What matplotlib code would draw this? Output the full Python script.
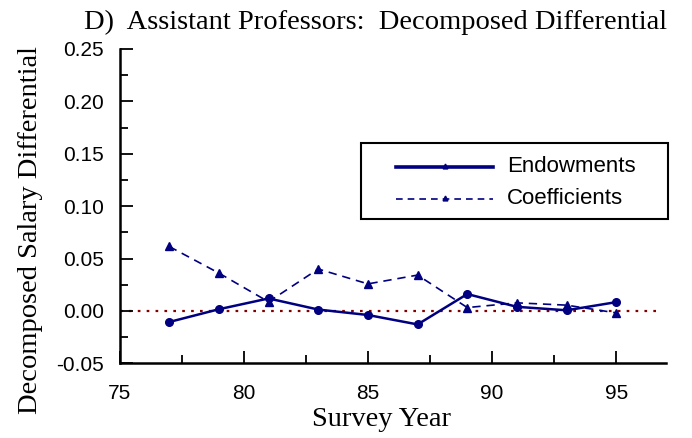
import matplotlib
matplotlib.use("Agg")
import matplotlib.pyplot as plt
from matplotlib.lines import Line2D
from matplotlib.patches import Rectangle
from matplotlib.ticker import MultipleLocator

# survey years and decomposed differential components
years = [77, 79, 81, 83, 85, 87, 89, 91, 93, 95]
endowments = [-0.0106, 0.0016, 0.0119, 0.0013, -0.0039, -0.0129, 0.0161, 0.0039, 0.0006, 0.0084]
coefficients = [0.0615, 0.0361, 0.0087, 0.0400, 0.0258, 0.0342, 0.0032, 0.0077, 0.0055, -0.0019]
series_names = ["Endowments", "Coefficients"]

navy = "#000080"
serif = "Liberation Serif"
sans = "Liberation Sans"
W, H = 692, 438

fig = plt.figure(figsize=(W / 100, H / 100), dpi=100)
ax = fig.add_axes([119.5 / W, 1 - 363.3 / H, (666 - 119.5) / W, (363.3 - 49) / H])

# zero reference line
ax.plot([75, 96.7], [0, 0], color="#800000", linestyle=(0, (1.2, 2.8)), linewidth=1.6, zorder=1)

ax.plot(years, endowments, color=navy, linewidth=1.8, marker="o", markersize=5.5, zorder=3)
ax.plot(years, coefficients, color=navy, linewidth=1.2, linestyle=(0, (5, 3.5)),
        marker="^", markersize=6, zorder=2)

ax.set_xlim(75, 97)
ax.set_ylim(-0.05, 0.25)
ax.xaxis.set_major_locator(MultipleLocator(5))
ax.xaxis.set_minor_locator(MultipleLocator(2.5))
ax.yaxis.set_major_locator(MultipleLocator(0.05))
ax.yaxis.set_minor_locator(MultipleLocator(0.025))
ax.yaxis.set_major_formatter(plt.FuncFormatter(lambda v, p: f"{v:.2f}"))

for side in ["top", "right"]:
    ax.spines[side].set_visible(False)
for side in ["left", "bottom"]:
    ax.spines[side].set_linewidth(1.8)

ax.tick_params(which="both", direction="in", width=1.3, labelsize=15)
ax.tick_params(which="major", length=9)
ax.tick_params(which="minor", length=6)
ax.tick_params(axis="y", which="major", pad=11)
ax.tick_params(axis="x", which="major", pad=15)
for lbl in ax.get_xticklabels() + ax.get_yticklabels():
    lbl.set_fontfamily(sans)

fig.text(382 / W, 1 - 420 / H, "Survey Year", fontfamily=serif, fontsize=20.5,
         ha="center", va="center")
fig.text(31 / W, 1 - 230 / H, "Decomposed Salary Differential", rotation=90, fontfamily=serif,
         fontsize=20.5, ha="center", va="center")
fig.text(375.5 / W, 1 - 22 / H, "D)  Assistant Professors:  Decomposed Differential",
         fontfamily=serif, fontsize=20.5, ha="center", va="center")

# legend box drawn by hand to match the original layout
fig.patches.append(Rectangle((361 / W, 1 - 219 / H), (668 - 361) / W, (219 - 143) / H,
                             transform=fig.transFigure, facecolor="white", edgecolor="black",
                             linewidth=1.5, zorder=5))
styles = [dict(linewidth=2.6, linestyle="-"), dict(linewidth=1.2, linestyle=(0, (4, 3)))]
for i, (name, st) in enumerate(zip(series_names, styles)):
    yy = 1 - (167 + 32 * i) / H
    fig.lines.append(Line2D([396 / W, 493 / W], [yy, yy], transform=fig.transFigure,
                            color=navy, zorder=6, **st))
    fig.lines.append(Line2D([444.5 / W], [yy + 1.5 / H], transform=fig.transFigure,
                            color=navy, marker="^", markersize=3.5, zorder=6))
    fig.text(507 / W, yy, name, fontfamily=sans, fontsize=16, va="center", ha="left", zorder=7)

fig.savefig("out.png", dpi=100)
